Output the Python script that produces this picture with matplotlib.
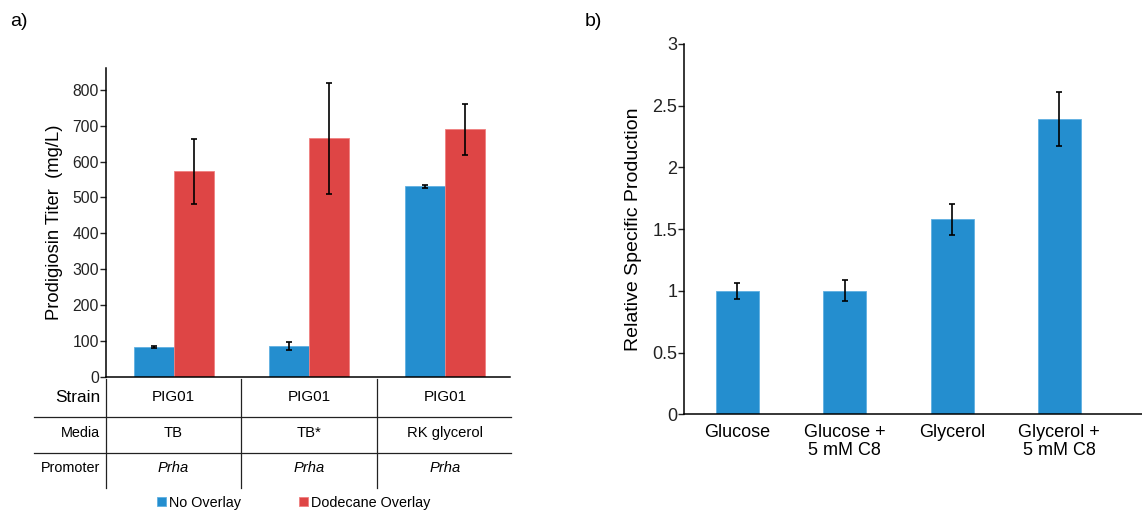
import numpy as np
import matplotlib
matplotlib.use("Agg")
import matplotlib.pyplot as plt
from matplotlib.lines import Line2D
from matplotlib.transforms import blended_transform_factory

plt.rcParams["font.family"] = ["Liberation Sans", "DejaVu Sans"]

# panel a data
strains = ["PIG01", "PIG01", "PIG01"]
media = ["TB", "TB*", "RK glycerol"]
promoters = ["Prha", "Prha", "Prha"]
no_overlay = [83, 86, 531]
no_overlay_err = [3, 11, 5]
dodecane = [573, 665, 690]
dodecane_err = [90, 155, 72]

# panel b data
conditions = ["Glucose", "Glucose +\n5 mM C8", "Glycerol", "Glycerol +\n5 mM C8"]
rel_prod = [1.0, 1.0, 1.58, 2.39]
rel_prod_err = [0.067, 0.085, 0.127, 0.22]

blue = "#248ecf"
red = "#de4545"
W, H = 1142, 511

fig = plt.figure(figsize=(W / 100, H / 100), dpi=100)

# ---- panel a ----
ax1 = fig.add_axes([105.7 / W, 1 - 376.7 / H, (510 - 105.7) / W, (376.7 - 67.7) / H])
x = np.arange(len(strains))
bw = 0.295
b1 = ax1.bar(x - bw / 2, no_overlay, bw, color=blue, edgecolor="#5fb0e2", linewidth=0.6,
             yerr=no_overlay_err, error_kw=dict(ecolor="black", elinewidth=1.2, capsize=2.2, capthick=1.2),
             label="No Overlay")
b2 = ax1.bar(x + bw / 2, dodecane, bw, color=red, edgecolor="#f08080", linewidth=0.6,
             yerr=dodecane_err, error_kw=dict(ecolor="black", elinewidth=1.2, capsize=2.2, capthick=1.2),
             label="Dodecane Overlay")
ax1.set_xlim(-0.5, 2.48)
ax1.set_ylim(0, 862)
ax1.set_yticks(np.arange(0, 801, 100))
ax1.set_xticks([])
ax1.spines["top"].set_visible(False)
ax1.spines["right"].set_visible(False)
ax1.spines["left"].set_linewidth(1.1)
ax1.spines["bottom"].set_linewidth(1.1)
ax1.tick_params(axis="y", labelsize=11.3, length=4, width=1, pad=1, colors="#222222")
ax1.set_ylabel("Prodigiosin Titer  (mg/L)", fontsize=13.2)
ax1.yaxis.set_label_coords(-0.106, 0.5)

# table under panel a
tr = blended_transform_factory(ax1.transData, fig.transFigure)
for xv in [-0.5, 0.5, 1.5]:
    fig.add_artist(Line2D([xv, xv], [1 - 379 / H, 1 - 488 / H], transform=tr, color="#222222", lw=0.9))
for yp in [416.7, 452.7]:
    fig.add_artist(Line2D([34 / W, 511 / W], [1 - yp / H, 1 - yp / H], transform=fig.transFigure,
                          color="#222222", lw=0.9))
row_y = [397, 433, 468]
fig.text(100 / W, 1 - row_y[0] / H, "Strain", fontsize=12.4, ha="right", va="center")
fig.text(100 / W, 1 - row_y[1] / H, "Media", fontsize=10.4, ha="right", va="center")
fig.text(100 / W, 1 - row_y[2] / H, "Promoter", fontsize=10.4, ha="right", va="center")
for i in range(len(strains)):
    ax1.text(x[i], 1 - row_y[0] / H, strains[i], transform=tr, fontsize=11, ha="center", va="center")
    ax1.text(x[i], 1 - row_y[1] / H, media[i], transform=tr, fontsize=10.6, ha="center", va="center")
    ax1.text(x[i], 1 - row_y[2] / H, promoters[i], transform=tr, fontsize=10.6, ha="center", va="center",
             style="italic")

leg = fig.legend(handles=[b1, b2], labels=["No Overlay", "Dodecane Overlay"], ncol=2, frameon=False,
                 loc="center", bbox_to_anchor=(294 / W, 1 - 503 / H), fontsize=10.4,
                 handlelength=0.6, handleheight=0.6, handletextpad=0.25, columnspacing=4.0,
                 borderpad=0, borderaxespad=0)

fig.text(10 / W, 1 - 22 / H, "a)", fontsize=14, ha="left", va="center")
fig.text(585 / W, 1 - 22 / H, "b)", fontsize=14, ha="left", va="center")

# ---- panel b ----
ax2 = fig.add_axes([684.3 / W, 1 - 414.3 / H, (W - 684.3) / W, (414.3 - 44) / H])
xb = np.arange(len(conditions))
ax2.bar(xb, rel_prod, 0.4, color=blue, edgecolor="#5fb0e2", linewidth=0.6,
        yerr=rel_prod_err, error_kw=dict(ecolor="black", elinewidth=1.2, capsize=2.4, capthick=1.2))
ax2.set_xlim(-0.495, 3.77)
ax2.set_ylim(0, 3)
ax2.set_yticks(np.arange(0, 3.01, 0.5))
ax2.set_yticklabels(["{:g}".format(v) for v in np.arange(0, 3.01, 0.5)])
ax2.set_xticks(xb)
ax2.set_xticklabels(conditions, fontsize=13, linespacing=1.1)
ax2.tick_params(axis="x", length=0, pad=7)
ax2.tick_params(axis="y", labelsize=13, length=4, width=1, pad=1, colors="#222222")
ax2.spines["top"].set_visible(False)
ax2.spines["right"].set_visible(False)
ax2.spines["left"].set_linewidth(1.1)
ax2.spines["bottom"].set_linewidth(1.1)
ax2.set_ylabel("Relative Specific Production", fontsize=14)
ax2.yaxis.set_label_coords(-0.092, 0.5)

fig.savefig("out.png", dpi=100)
